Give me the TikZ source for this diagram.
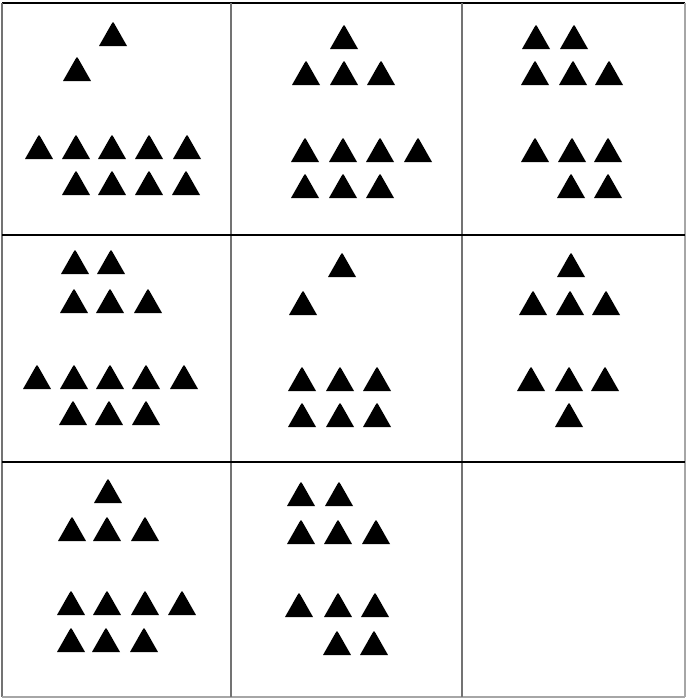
\documentclass[tikz,border=0pt]{standalone}
\begin{document}
\begin{tikzpicture}[x=1pt,y=-1pt,
  tri/.pic={\fill[black] (-14,0) -- (-1.5,-22) -- (0,-24) -- (1.5,-22) -- (14,0) -- cycle;},
  darkline/.style={draw=black, line width=2.5pt},
  grayline/.style={draw=black!55, line width=2.5pt},
  lightline/.style={draw=black!35, line width=2.5pt}]
\useasboundingbox (0,0) rectangle (687,699);
\fill[white] (0,0) rectangle (687,699);
% grid
\draw[darkline] (2,3) -- (685,3);
\draw[grayline] (2,3) -- (2,697);
\draw[lightline] (685,3) -- (685,697);
\draw[lightline] (2,697) -- (685,697);
\draw[grayline] (231,3) -- (231,697);
\draw[grayline] (462,3) -- (462,697);
\draw[darkline] (2,235) -- (685,235);
\draw[darkline] (2,462) -- (685,462);
% triangles
\foreach \x/\y in {
  113/46, 77/81, 39/159, 76/159, 112/159, 149/159, 187/159, 76/195, 112/195, 149/195, 186/195,
  344/49, 306/85, 344/85, 381/85, 305/162, 343/162, 380/162, 418/162, 305/198, 343/198, 380/198,
  536/49, 574/49, 535/85, 573/85, 609/85, 535/162, 572/162, 608/162, 571/198, 608/198,
  75/274, 111/274, 74/313, 110/313, 148/313, 37/389, 74/389, 110/389, 146/389, 184/389, 73/425, 109/425, 146/425,
  342/277, 303/315, 302/391, 340/391, 377/391, 302/427, 340/427, 377/427,
  571/277, 533/315, 570/315, 606/315, 531/391, 569/391, 605/391, 569/427,
  108/503, 72/541, 107/541, 145/541, 71/615, 107/615, 145/615, 182/615, 71/652, 106/652, 144/652,
  301/506, 339/506, 301/544, 338/544, 376/544, 299/617, 338/617, 375/617, 337/655, 374/655}
  \pic at (\x,\y) {tri};
\end{tikzpicture}
\end{document}
